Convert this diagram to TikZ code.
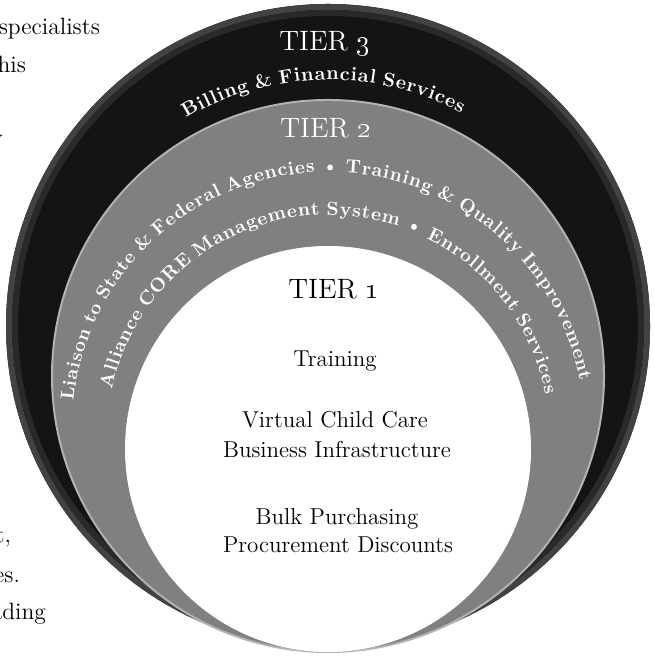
\documentclass[tikz,border=0pt]{standalone}
\usepackage{tikz}

\colorlet{ringblack}{black!92}
\colorlet{ringrim}{black!74}
\colorlet{tiertwo}{black!50}

% gap between words on the rings
\newcommand\ringgap{\kern0.27em}
% letters along an arc: centre, radius, start angle, letter style, letters
\newcommand\ringline[5]{%
  \gdef\ringang{#3}%
  \foreach \ch in {#5}{%
    \node[#4,rotate=\ringang-90,anchor=base west] (rl) at ([shift={(\ringang:#2)}]#1) {\ch};
    \pgfmathanglebetweenpoints{\pgfpointanchor{#1}{center}}{\pgfpointanchor{rl}{base east}}%
    \global\let\ringang\pgfmathresult
  }%
}

\begin{document}
\begin{tikzpicture}[x=0.5pt,y=0.5pt,
    pagetext/.style={anchor=base east,font=\fontsize{11.8}{14}\selectfont},
    innertext/.style={anchor=base,font=\fontsize{11.5}{14}\selectfont},
    tierlabel/.style={anchor=base,font=\fontsize{14}{16}\selectfont},
    billletter/.style={inner sep=0pt,text=white,font=\bfseries\fontsize{9.75}{12}\selectfont},
    twoletter/.style={inner sep=0pt,text=white,font=\bfseries\fontsize{9.5}{12}\selectfont},
    corletter/.style={inner sep=0pt,text=white,font=\bfseries\fontsize{9.5}{12}\selectfont}]
  \useasboundingbox (0,0) rectangle (654,656);
  \clip (0,0) rectangle (654,656);

  % text of the page, cut at the left edge
  \node[pagetext] (pgspec) at (107,621) {specialists};
  \node[pagetext] (pgthis) at (33,583) {this};
  \node[pagetext] (pgy) at (10,510) {y};
  \node[pagetext] (pgrt) at (18,113) {rt,};
  \node[pagetext] (pges) at (27,73) {es.};
  \node[pagetext] (pgading) at (53,36) {ading};

  % the three tiers, touching at the bottom
  \fill[ringblack] (328,330) circle (322);
  \draw[ringrim,line width=3] (328,330) circle (319);
  \draw[black!84,line width=3] (328,330) circle (313);
  \filldraw[fill=tiertwo,draw=white!70!black,line width=1] (328,280) circle (276);
  \fill[white] (328,207) circle (203);

  % centres of the lettering
  \coordinate (billc) at (328,291);
  \coordinate (twoc) at (328,228);
  \coordinate (corc) at (328,220);

  % tier 3
  \node[tierlabel,text=white] (tierthree) at (325,605) {TIER \oldstylenums{3}};
  \ringline{billc}{285}{120}{billletter}{B,i,l,l,i,n,g,\ringgap,\&,\ringgap,F,i,n,a,n,c,i,a,l,\ringgap,S,e,r,v,i,c,e,s}

  % tier 2
  \node[tierlabel,text=white] (tiertwo) at (326,518) {TIER \oldstylenums{2}};
  \ringline{twoc}{256}{174}{twoletter}{L,i,a,i,s,o,n,\ringgap,t,o,\ringgap,S,t,a,t,e,\ringgap,\&,\ringgap,F,e,d,e,r,a,l,\ringgap,A,g,e,n,c,i,e,s,\ringgap,•,\ringgap,T,r,a,i,n,i,n,g,\ringgap,\&,\ringgap,Q,u,a,l,i,t,y,\ringgap,I,m,p,r,o,v,e,m,e,n,t}
  \ringline{corc}{221}{168}{corletter}{A,l,l,i,a,n,c,e,\ringgap,C,O,R,E,\ringgap,M,a,n,a,g,e,m,e,n,t,\ringgap,S,y,s,t,e,m,\ringgap,•,\ringgap,E,n,r,o,l,l,m,e,n,t,\ringgap,S,e,r,v,i,c,e,s}

  % tier 1
  \node[tierlabel] (tierone) at (334,357) {TIER \oldstylenums{1}};
  \node[innertext] (training) at (335,289) {Training};
  \node[innertext] (virtual) at (335,228) {Virtual Child Care};
  \node[innertext] (business) at (337,198) {Business Infrastructure};
  \node[innertext] (bulk) at (337,131) {Bulk Purchasing};
  \node[innertext] (procure) at (338,103) {Procurement Discounts};
\end{tikzpicture}
\end{document}
